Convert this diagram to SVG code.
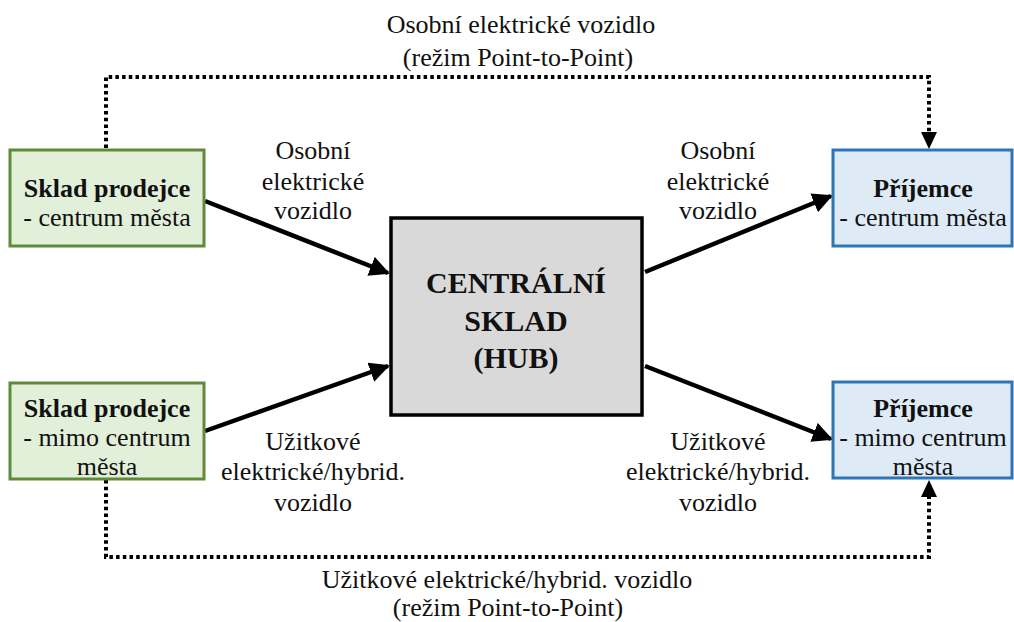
<svg xmlns="http://www.w3.org/2000/svg" width="1014" height="622" viewBox="0 0 1014 622">
<style>
text{font-family:'Liberation Serif','Times New Roman','DejaVu Serif',serif;fill:#111;text-anchor:middle}
.t{font-size:26px}
.b{font-weight:bold}
.h{font-size:30px;font-weight:bold}
.green{fill:#e2efd9;stroke:#5f8a3a;stroke-width:3}
.blue{fill:#deebf7;stroke:#2e75b6;stroke-width:3}
.hub{fill:#d9d9d9;stroke:#000;stroke-width:3.5}
.solid{stroke:#000;stroke-width:4.5;fill:none}
.dot{stroke:#000;stroke-width:4;fill:none;stroke-dasharray:3.5 3.2}
</style>
<defs>
<marker id="ah" viewBox="0 0 10 10" refX="9" refY="5" markerWidth="4.5" markerHeight="4.5" orient="auto" markerUnits="strokeWidth">
<path d="M0,0 L10,5 L0,10 z" fill="#000"/>
</marker>
</defs>
<g id="connectors">
<path class="solid" d="M205,201 L388,273" marker-end="url(#ah)"/>
<path class="solid" d="M205,431 L388,366" marker-end="url(#ah)"/>
<path class="solid" d="M645,272 L831,196" marker-end="url(#ah)"/>
<path class="solid" d="M645,366 L831,439" marker-end="url(#ah)"/>
<path class="dot" d="M106,148 L106,77 L929,77 L929,134"/>
<path d="M921,132 L937,132 L929,149 z" fill="#000"/>
<path class="dot" d="M106,480 L106,557 L929,557 L929,497"/>
<path d="M921,497 L937,497 L929,480 z" fill="#000"/>
<text class="t" x="313" y="159">Osobní</text>
<text class="t" x="313" y="190">elektrické</text>
<text class="t" x="313" y="219">vozidlo</text>
<text class="t" x="718" y="159">Osobní</text>
<text class="t" x="718" y="190">elektrické</text>
<text class="t" x="718" y="219">vozidlo</text>
<text class="t" x="313" y="450">Užitkové</text>
<text class="t" x="313" y="480">elektrické/hybrid.</text>
<text class="t" x="313" y="511">vozidlo</text>
<text class="t" x="718" y="450">Užitkové</text>
<text class="t" x="718" y="480">elektrické/hybrid.</text>
<text class="t" x="718" y="511">vozidlo</text>
<text class="t" x="521" y="33">Osobní elektrické vozidlo</text>
<text class="t" x="518" y="66">(režim Point-to-Point)</text>
<text class="t" x="507" y="588">Užitkové elektrické/hybrid. vozidlo</text>
<text class="t" x="508" y="616">(režim Point-to-Point)</text>
</g>
<g id="sklad1">
<rect class="green" x="10" y="150" width="194" height="96"/>
<text class="t b" x="107" y="197">Sklad prodejce</text>
<text class="t" x="107" y="226">- centrum města</text>
</g>
<g id="sklad2">
<rect class="green" x="10" y="383" width="194" height="96"/>
<text class="t b" x="107" y="417">Sklad prodejce</text>
<text class="t" x="107" y="446">- mimo centrum</text>
<text class="t" x="107" y="475">města</text>
</g>
<g id="hub">
<rect class="hub" x="391" y="218" width="251" height="197"/>
<text class="h" x="516" y="293">CENTRÁLNÍ</text>
<text class="h" x="516" y="331">SKLAD</text>
<text class="h" x="516" y="368">(HUB)</text>
</g>
<g id="prijemce1">
<rect class="blue" x="833" y="150" width="179" height="96"/>
<text class="t b" x="923" y="197">Příjemce</text>
<text class="t" x="923" y="226">- centrum města</text>
</g>
<g id="prijemce2">
<rect class="blue" x="833" y="382" width="179" height="96"/>
<text class="t b" x="923" y="417">Příjemce</text>
<text class="t" x="923" y="446">- mimo centrum</text>
<text class="t" x="923" y="475">města</text>
</g>
</svg>
